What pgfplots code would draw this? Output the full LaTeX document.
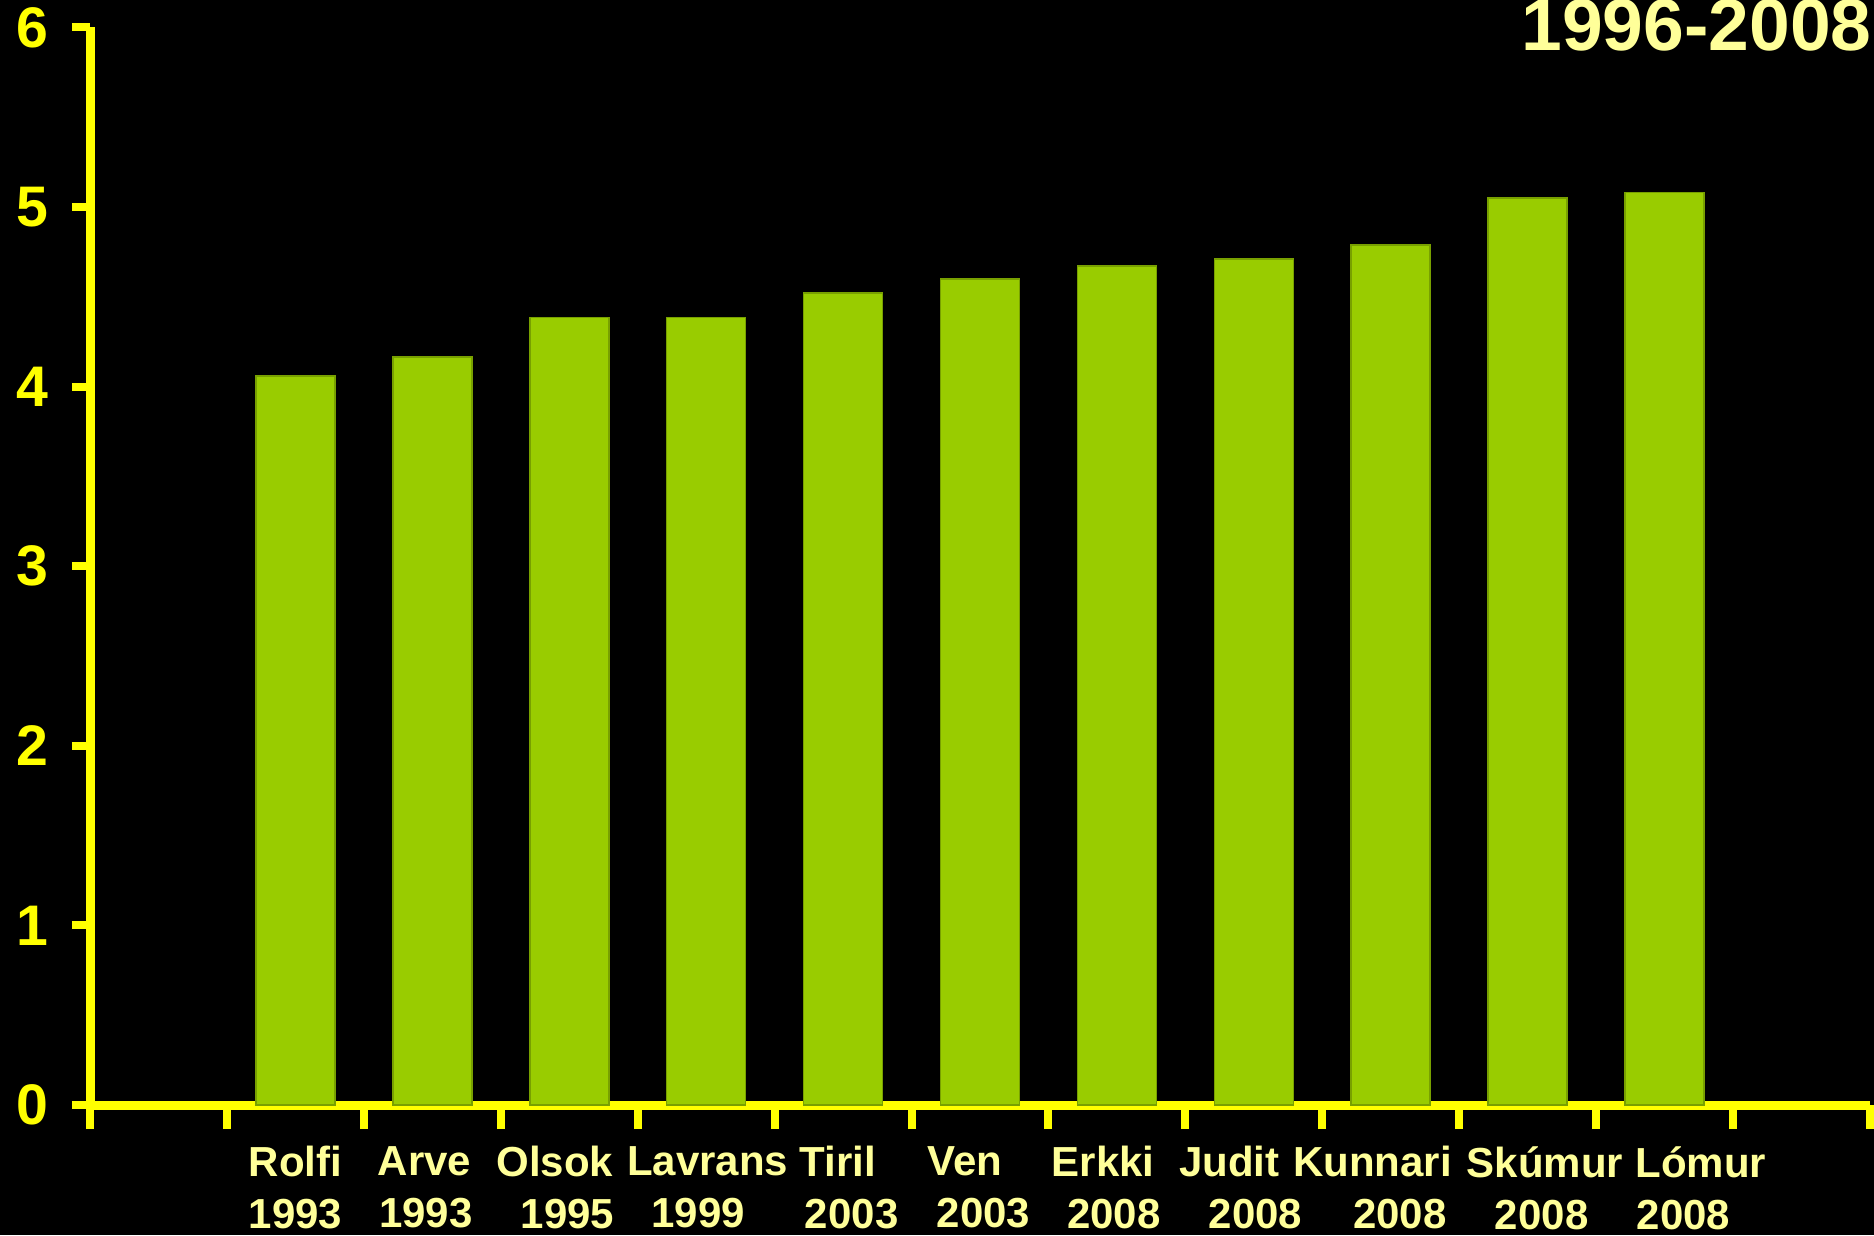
\documentclass[border=0pt]{standalone}
\usepackage{pgfplots}
\pgfplotsset{compat=1.18}
\usepackage{fontspec}
\setmainfont{Liberation Sans}
\definecolor{axyellow}{RGB}{255,255,0}
\definecolor{paleyellow}{RGB}{255,255,153}
\definecolor{bargreen}{RGB}{153,204,0}
\definecolor{baredge}{RGB}{120,160,0}
\newcommand\sh[2]{\makebox[0pt]{\kern#1\relax#2\kern-#1\relax}}
\newcommand\lab[4]{\sh{#1}{#2}\\\sh{#3}{#4}}
\begin{document}
\begin{tikzpicture}
\clip (-22.5pt,-32.5pt) rectangle (446pt,276.25pt);
\fill[black] (-22.5pt,-32.5pt) rectangle (446pt,276.25pt);
\begin{axis}[
  at={(0pt,0pt)}, anchor=origin,
  scale only axis,
  width=445pt, height=269.4pt,
  xmin=0, xmax=13, ymin=0, ymax=6,
  axis x line=bottom, axis y line=left,
  axis line style={-, draw=axyellow, line width=2.25pt},
  tick align=outside,
  major tick length=6pt,
  every tick/.style={draw=axyellow, line width=2pt},
  xtick={0,1,2,3,4,5,6,7,8,9,10,11,12,13},
  xticklabels={},
  extra x ticks={1.5,2.5,3.5,4.5,5.5,6.5,7.5,8.5,9.5,10.5,11.5},
  extra x tick labels={
    {\lab{0pt}{Rolfi}{0pt}{1993}},
    {\lab{-1.95pt}{Arve}{-1.6pt}{1993}},
    {\lab{-3.6pt}{Olsok}{-0.4pt}{1995}},
    {\lab{0.4pt}{Lavrans}{-2pt}{1999}},
    {\lab{-1.25pt}{Tiril}{2.15pt}{2003}},
    {\lab{-3.75pt}{Ven}{0.9pt}{2003}},
    {\lab{-3.45pt}{Erkki}{-0.75pt}{2008}},
    {\lab{-6.1pt}{Judit}{0.4pt}{2008}},
    {\lab{-4.6pt}{Kunnari}{2.3pt}{2008}},
    {\lab{4.3pt}{Skúmur}{3.5pt}{2008}},
    {\lab{9.05pt}{Lómur}{4.7pt}{2008}}},
  extra x tick style={major tick length=0pt,
    xticklabel style={text=paleyellow, font=\fontsize{10.5}{13}\selectfont\bfseries, align=center, anchor=north, yshift=-6.8pt}},
  ytick=\empty,
  extra y ticks={0,1,2,3,4,5,6},
  extra y tick style={major tick length=4.5pt,
    yticklabel style={text=axyellow, font=\fontsize{14.3}{16}\selectfont\bfseries, anchor=east, xshift=-2.5pt}},
  /pgf/number format/assume math mode=true,
  ybar, bar width=19.75pt,
]
\addplot[fill=bargreen, draw=baredge, line width=0.4pt] coordinates {
(1.5,4.06) (2.5,4.165) (3.5,4.385) (4.5,4.385) (5.5,4.52) (6.5,4.60) (7.5,4.67) (8.5,4.71) (9.5,4.79) (10.5,5.05) (11.5,5.08)
};
\end{axis}
\node[anchor=base east, inner sep=0pt, text=paleyellow, font=\fontsize{18.3}{20}\selectfont\bfseries] at (445.6pt,263.5pt) {1996-2008};
\end{tikzpicture}
\end{document}
